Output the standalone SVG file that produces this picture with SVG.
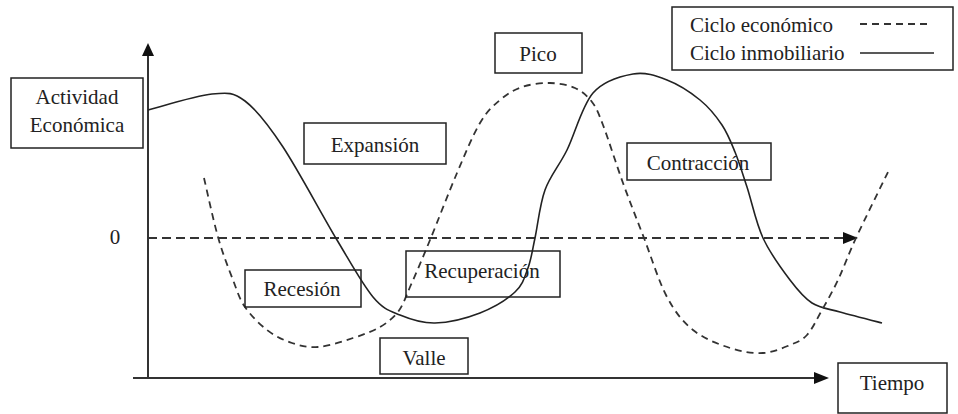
<svg xmlns="http://www.w3.org/2000/svg" width="958" height="414" viewBox="0 0 958 414">
<style>
.box{fill:none;stroke:#222;stroke-width:1.5}
.lbl{font-size:21px;fill:#222}
.mid{text-anchor:middle}
.axis{stroke:#333;stroke-width:2;fill:none}
.solid{stroke:#222;stroke-width:1.6;fill:none}
.dash{stroke:#333;stroke-width:1.8;fill:none;stroke-dasharray:7 5}
.zero{stroke:#333;stroke-width:1.8;fill:none;stroke-dasharray:9 5}
.head{fill:#111}
</style>
<rect width="958" height="414" fill="#fff"/>
<g id="connectors">
<line class="axis" x1="148" y1="378" x2="148" y2="54"/>
<polygon class="head" points="148,43 142,56 154,56"/>
<line class="axis" x1="133" y1="378" x2="816" y2="378"/>
<polygon class="head" points="829,378 814,372 814,384"/>
<line class="zero" x1="148" y1="238" x2="845" y2="238"/>
<polygon class="head" points="858,238 843,232 843,244"/>
<path id="ciclo-inmobiliario" class="solid" d="M148,110 C158.7,107.3 195.8,95.5 212,94 C228.2,92.5 233.2,92.2 245,101 C256.8,109.8 267.7,123.8 283,147 C298.3,170.2 322,215 337,240 C352,265 362.5,284.5 373,297 C383.5,309.5 389.7,310.7 400,315 C410.3,319.3 421.7,323.3 435,323 C448.3,322.7 466.7,318.2 480,313 C493.3,307.8 507,299.5 515,292 C523,284.5 524.7,277 528,268 C531.3,259 532.2,251 535,238 C537.8,225 539.7,204.7 545,190 C550.3,175.3 559,166.2 567,150 C575,133.8 582,105.7 593,93 C604,80.3 620.7,76.2 633,74 C645.3,71.8 655.8,75.7 667,80 C678.2,84.3 690.8,92.5 700,100 C709.2,107.5 716.2,116.3 722,125 C727.8,133.7 730.8,141.7 735,152 C739.2,162.3 742.3,172.7 747,187 C751.7,201.3 755.8,222.5 763,238 C770.2,253.5 781.8,269.2 790,280 C798.2,290.8 803.7,297.7 812,303 C820.3,308.3 828.3,308.7 840,312 C851.7,315.3 875,321.2 882,323"/>
<path id="ciclo-economico" class="dash" d="M204,178 C206.3,187.8 213.2,220 218,237 C222.8,254 228.5,268.3 233,280 C237.5,291.7 239.3,298.7 245,307 C250.7,315.3 259.2,324 267,330 C274.8,336 283.5,340.2 292,343 C300.5,345.8 307.8,347.8 318,347 C328.2,346.2 342.7,341.3 353,338 C363.3,334.7 372.7,331.2 380,327 C387.3,322.8 393,318 398,312 C403,305 405,299 410,287 C415.5,274.8 422.2,259 430,240 C437.8,221 448.7,192.5 457,173 C465.3,153.5 472.8,135.2 480,123 C487.2,110.8 493,106 500,100 C507,94 513.7,89.8 522,87 C530.3,84.2 541.2,82.8 550,83 C558.8,83.2 568,84.8 575,88 C582,91.2 587.3,95.8 592,102 C596.7,108.2 597.8,111.5 603,125 C608.2,138.5 616.2,164.2 623,183 C629.8,201.8 636.7,219 644,238 C651.3,257 658.8,281.7 667,297 C675.2,312.3 682.5,321.5 693,330 C703.5,338.5 718.3,344.2 730,348 C741.7,351.8 753,353.5 763,353 C773,352.5 782.7,348 790,345 C797.3,342 801.7,340.8 807,335 C812.3,329.2 816.8,319.2 822,310 C827.2,300.8 832.3,292 838,280 C843.7,268 847.7,256 856,238 C864.3,220 882.7,183 888,172"/>
</g>
<g id="actividad">
<rect class="box" x="11" y="78" width="132" height="70"/>
<text class="lbl mid" x="77" y="104" style="font-family:'Liberation Serif',serif">Actividad</text>
<text class="lbl mid" x="77" y="132" style="font-family:'Liberation Serif',serif">Económica</text>
</g>
<g id="expansion">
<rect class="box" x="304" y="123" width="142" height="41"/>
<text class="lbl mid" x="375" y="152" style="font-family:'Liberation Serif',serif">Expansión</text>
</g>
<g id="pico">
<rect class="box" x="495" y="33" width="87" height="40"/>
<text class="lbl mid" x="538" y="61" style="font-family:'Liberation Serif',serif">Pico</text>
</g>
<g id="leyenda">
<rect class="box" x="672" y="7" width="281" height="63"/>
<text class="lbl" x="690" y="32" style="font-family:'Liberation Serif',serif">Ciclo económico</text>
<text class="lbl" x="690" y="60" style="font-family:'Liberation Serif',serif">Ciclo inmobiliario</text>
<line class="dash" x1="860" y1="24" x2="932" y2="24"/>
<line class="solid" x1="860" y1="53" x2="934" y2="53"/>
</g>
<g id="contraccion">
<rect class="box" x="627" y="143" width="144" height="37"/>
<text class="lbl mid" x="698" y="170" style="font-family:'Liberation Serif',serif">Contracción</text>
</g>
<g id="cero">
<text class="lbl mid" x="115" y="244" style="font-family:'Liberation Serif',serif">0</text>
</g>
<g id="recesion">
<rect class="box" x="245" y="270" width="116" height="37"/>
<text class="lbl mid" x="302" y="296" style="font-family:'Liberation Serif',serif">Recesión</text>
</g>
<g id="recuperacion">
<rect class="box" x="406" y="251" width="154" height="46"/>
<text class="lbl mid" x="482" y="278" style="font-family:'Liberation Serif',serif">Recuperación</text>
</g>
<g id="valle">
<rect class="box" x="380" y="338" width="88" height="36"/>
<text class="lbl mid" x="424" y="365" style="font-family:'Liberation Serif',serif">Valle</text>
</g>
<g id="tiempo">
<rect class="box" x="838" y="363" width="109" height="50"/>
<text class="lbl mid" x="892" y="390" style="font-family:'Liberation Serif',serif">Tiempo</text>
</g>
</svg>
